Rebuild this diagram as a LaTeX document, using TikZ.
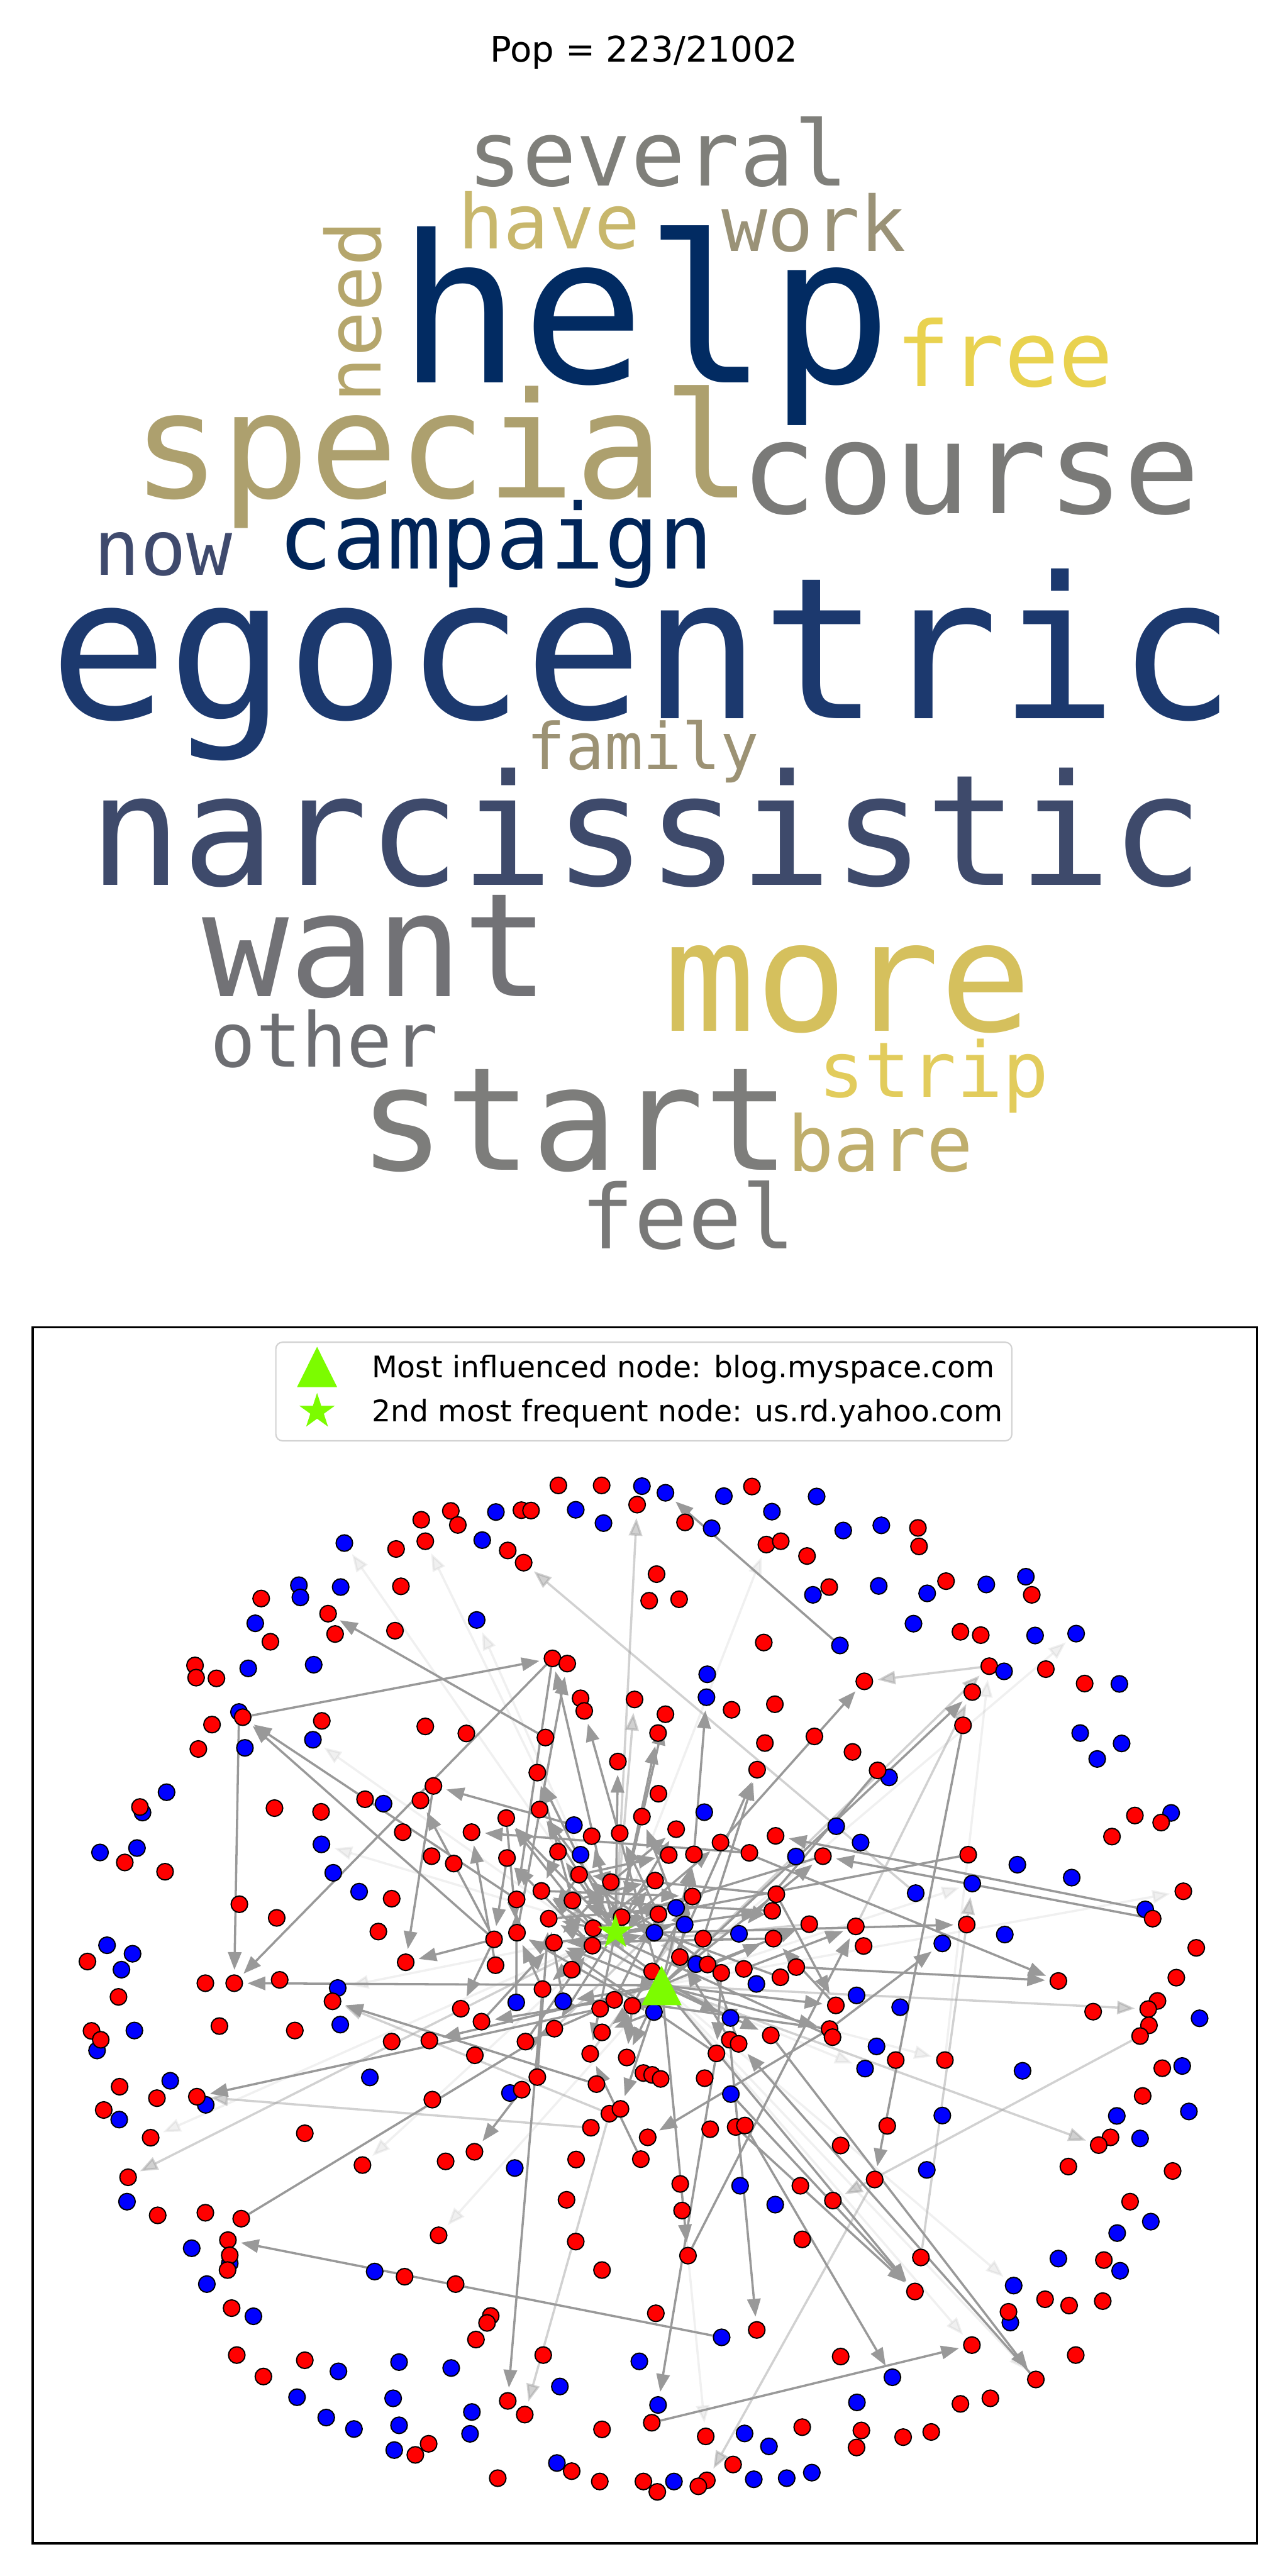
\documentclass[tikz,border=0pt]{standalone}
\usepackage{fontspec}
\setmainfont{DejaVu Sans}
\newfontfamily\cloudfont{DejaVu Sans Mono}
\usetikzlibrary{arrows.meta,shapes.geometric,backgrounds}
\definecolor{cSeveral}{RGB}{127,127,122}
\definecolor{cHave}{RGB}{200,183,108}
\definecolor{cWork}{RGB}{154,146,119}
\definecolor{cNeed}{RGB}{181,166,108}
\definecolor{cHelp}{RGB}{2,43,98}
\definecolor{cFree}{RGB}{233,210,79}
\definecolor{cSpecial}{RGB}{173,160,110}
\definecolor{cCourse}{RGB}{122,122,120}
\definecolor{cNow}{RGB}{63,74,109}
\definecolor{cCampaign}{RGB}{1,37,89}
\definecolor{cEgo}{RGB}{28,57,110}
\definecolor{cFamily}{RGB}{156,146,116}
\definecolor{cNarc}{RGB}{62,74,107}
\definecolor{cWant}{RGB}{114,114,118}
\definecolor{cMore}{RGB}{213,192,93}
\definecolor{cOther}{RGB}{109,110,114}
\definecolor{cStrip}{RGB}{226,204,92}
\definecolor{cStart}{RGB}{125,125,123}
\definecolor{cBare}{RGB}{191,174,108}
\definecolor{cFeel}{RGB}{121,121,120}
\definecolor{lgreen}{RGB}{124,252,0}
\definecolor{edgegray}{RGB}{153,153,153}
\definecolor{legendgray}{RGB}{210,210,210}
\tikzset{
  word/.style={anchor=base, inner sep=0pt, outer sep=0pt},
  dot/.style={circle, draw=black, line width=0.55pt, minimum size=0.262cm, inner sep=0pt},
  edge/.style={draw=edgegray, line width=1pt, -{Triangle[length=8pt,width=6pt]}, shorten >=2pt},
  edgelight/.style={edge, opacity=0.45},
  edgefaint/.style={edge, opacity=0.15},
  marker/.style={fill=lgreen, draw=none},
}
\begin{document}
\begin{tikzpicture}[x=0.026cm, y=-0.026cm]
\useasboundingbox (0,0) rectangle (784,1568);

\node[anchor=base, inner sep=0pt, font=\fontsize{15.9}{15.9}\selectfont] (title) at (392,37.8) {Pop = 223/21002};

\foreach \w/\x/\y/\s/\c in {several/400.7/113/40.7/cSeveral, have/334.3/151.5/34/cHave, work/495.4/152.8/34.4/cWork,
  help/392.7/232.9/92.5/cHelp, free/611.5/235.4/40.7/cFree, special/269.2/302.9/66.2/cSpecial,
  course/590.8/312.6/57.3/cCourse, now/99.4/350.1/34.4/cNow, campaign/301.8/346.2/40.7/cCampaign,
  egocentric/391.2/437.3/88.8/cEgo, family/391.5/468.4/29/cFamily, narcissistic/393.6/538.7/69.5/cNarc,
  want/228.8/606.7/65/cWant, more/516.1/627.6/68.8/cMore, other/197.4/649.3/34/cOther,
  strip/568.3/667.9/34.5/cStrip, start/349.9/712.3/64.6/cStart, bare/535.8/712.9/34.7/cBare,
  feel/418.8/760.1/40/cFeel}
  \node[word, text=\c, font=\cloudfont\fontsize{\s}{\s}\selectfont] (w-\w) at (\x,\y) {\w};
\node[word, rotate=90, text=cNeed, font=\cloudfont\fontsize{34}{34}\selectfont] (w-need) at (231.9,189.7) {need};

\draw[line width=1pt] (20,808) rectangle (765,1548);

\begin{scope}[shift={(43.55,892.9)}, scale=0.225]
\foreach \n/\x/\y/\c in {a1/1317/50/red, a2/1434/50/red, a3/1543/52/blue, a4/1530/102/red, a5/1364/116/blue, a6/1439/152/blue, a7/1217/117/red, a8/1243/118/red, a9/1148/122/blue, a10/1026/119/red, a11/1045/157/red, a12/946/143/red, a13/957/201/red, a14/1111/198/blue, a15/1180/226/red, a16/1223/259/red, a17/878/222/red, a18/738/206/blue, a19/891/323/red, a20/728/325/blue, a21/615/320/blue, a22/619/353/blue, a23/513/356/red, a24/1096/414/blue, a25/694/397/red, a26/713/452/red, a27/875/443/red, a28/497/423/blue, a29/538/473/red, a30/1301/518/red, a31/1341/532/red, a32/478/545/blue, a33/655/535/blue, a34/334/537/red, a35/337/570/red, a36/392/572/red, a37/1377/626/red, a38/1387/660/red, a39/1523/629/red, a40/453/663/blue, a41/463/677/red, a42/380/697/red, a43/677/687/red, a44/957/702/red, a45/1068/721/red, a46/1282/732/red, a47/653/738/blue, a48/343/763/red, a49/469/760/blue, a50/1478/797/red, a51/1260/827/red, a52/979/863/red, a53/794/899/red, a54/844/911/blue, a55/944/902/red, a56/257/880/blue, a57/192/935/blue, a58/185/920/red, a59/549/923/red, a60/675/933/red, a61/1266/927/red, a62/1176/950/red, a63/1543/946/red, a64/1359/969/blue, a65/896/988/red, a66/1082/988/red, a67/1407/999/red, a68/1483/991/red, a69/77/1043/blue, a70/177/1031/blue, a71/144/1070/red, a72/253/1095/red, a73/676/1021/blue, a74/1316/1041/red, a75/1377/1049/blue, a76/974/1053/red, a77/1034/1073/red, a78/1178/1058/red, a79/708/1098/blue, a80/1373/1103/red, a81/1459/1123/red, a82/778/1149/blue, a83/866/1168/red, a84/1271/1147/red, a85/1204/1170/red, a86/1355/1173/red, a87/454/1183/red, a88/555/1220/red, a89/1291/1222/red, a90/1488/1218/red, a91/830/1257/red, a92/1143/1278/red, a93/1205/1260/red, a94/1305/1287/red, a95/1411/1248/red, a96/1409/1295/red, a97/96/1294/blue, a98/165/1317/blue, a99/43/1338/red, a100/135/1360/blue, a101/904/1340/red, a102/1147/1348/red, a103/1353/1360/red}
  \node[dot, fill=\c] (\n) at (\x,\y) {};
\end{scope}

\begin{scope}[shift={(392,892.9)}, scale=0.225]
\foreach \n/\x/\y/\c in {b1/58/70/blue, b2/216/79/blue, b3/292/53/red, b4/467/80/blue, b5/346/121/blue, b6/111/150/red, b7/183/166/blue, b8/331/210/red, b9/370/201/red, b10/441/241/red, b11/539/172/blue, b12/642/158/blue, b13/741/165/red, b14/744/215/red, b15/34/290/red, b16/14/362/red, b17/95/358/red, b18/501/325/red, b19/457/346/blue, b20/635/322/blue, b21/766/342/blue, b22/817/309/red, b23/926/318/blue, b24/1033/297/blue, b25/1049/346/red, b26/729/424/blue, b27/856/446/red, b28/911/455/red, b29/1058/456/blue, b30/1169/451/blue, b31/324/475/red, b32/530/483/blue, b33/934/539/red, b34/974/553/blue, b35/1087/547/red, b36/1192/586/red, b37/1286/587/blue, b38/596/580/red, b39/171/561/blue, b40/169/623/blue, b41/237/657/red, b42/354/642/red, b43/58/669/red, b44/38/720/red, b45/888/609/red, b46/863/699/red, b47/1180/720/blue, b48/1292/748/blue, b49/1226/790/blue, b50/327/747/red, b51/461/729/red, b52/564/771/red, b53/306/819/red, b54/663/840/blue, b55/632/821/red, b56/39/884/red, b57/163/934/blue, b58/1328/943/red, b59/1426/936/blue, b60/1399/962/red, b61/1266/1000/red, b62/87/980/red, b63/520/972/blue, b64/586/1016/blue, b65/356/998/red, b66/207/1016/red, b67/67/1050/red, b68/135/1048/red, b69/285/1044/red, b70/411/1054/blue, b71/484/1053/red, b72/877/1049/red, b73/1010/1076/blue, b74/1157/1111/blue, b75/1459/1148/red, b76/30/1119/red, b77/131/1162/red, b78/358/1156/red, b79/87/1193/blue, b80/39/1210/red, b81/347/1201/red, b82/735/1153/blue, b83/888/1127/blue, b84/1356/1197/blue, b85/1376/1222/red, b86/110/1238/blue, b87/28/1260/blue, b88/257/1263/blue, b89/160/1276/red, b90/350/1276/red, b91/447/1237/red, b92/573/1243/red, b93/594/1296/red, b94/873/1238/red, b95/976/1265/blue, b96/807/1289/blue, b97/1494/1301/red, b98/97/1326/red, b99/141/1345/blue, b100/172/1346/red, b101/270/1358/red, b102/412/1353/red}
  \node[dot, fill=\c] (\n) at (\x,\y) {};
\end{scope}

\begin{scope}[shift={(43.55,1197.7)}, scale=0.225]
\foreach \n/\x/\y/\c in {c1/362/42/red, c2/440/42/red, c3/563/33/red, c4/720/55/blue, c5/706/91/red, c6/127/79/red, c7/1274/58/red, c8/1203/94/blue, c9/1330/91/blue, c10/1468/87/red, c11/1430/111/red, c12/1517/103/red, c13/1053/111/red, c14/1109/146/red, c15/1306/165/red, c16/1435/175/red, c17/69/224/blue, c18/54/171/red, c19/79/195/red, c20/170/170/blue, c21/400/158/red, c22/604/170/red, c23/727/154/blue, c24/866/200/red, c25/968/197/red, c26/1228/200/red, c27/1091/237/red, c28/1403/233/red, c29/1502/243/red, c30/1547/285/red, c31/267/306/blue, c32/130/322/red, c33/231/353/red, c34/807/297/blue, c35/1260/296/red, c36/1186/339/blue, c37/1218/330/red, c38/1420/315/red, c39/363/371/blue, c40/339/349/red, c41/976/357/red, c42/87/385/red, c43/129/411/blue, c44/214/460/red, c45/631/448/red, c46/1455/395/red, c47/1485/382/red, c48/1405/433/red, c49/1090/498/red, c50/1012/524/red, c51/787/534/red, c52/1199/542/blue, c53/1365/519/red, c54/1540/518/red, c55/153/567/red, c56/150/633/blue, c57/233/670/red, c58/362/663/red, c59/459/679/red, c60/1339/628/red, c61/993/724/red, c62/1364/741/red, c63/325/759/blue, c64/428/800/blue, c65/423/737/red, c66/428/778/red, c67/422/818/red, c68/366/856/blue, c69/820/822/blue, c70/901/836/red, c71/1039/856/red, c72/1435/818/red, c73/433/921/red, c74/492/943/blue, c75/1134/942/red, c76/1124/961/red, c77/1094/1006/red, c78/447/1048/red, c79/631/1062/red, c80/519/1106/red, c81/722/1092/blue, c82/886/1067/blue, c83/1027/1083/blue, c84/1276/1048/red, c85/1536/1065/blue, c86/1321/1133/blue, c87/610/1162/blue, c88/870/1165/blue, c89/689/1217/blue, c90/764/1248/blue, c91/886/1238/blue, c92/1083/1202/blue, c93/1078/1261/blue, c94/1180/1172/red, c95/1226/1209/red, c96/1435/1249/red, c97/873/1305/blue, c98/930/1318/red, c99/966/1288/red, c100/1313/1340/blue, c101/1353/1362/red, c102/1153/1381/red, c103/1429/1390/red, c104/1547/1390/red}
  \node[dot, fill=\c] (\n) at (\x,\y) {};
\end{scope}

\begin{scope}[shift={(392,1197.7)}, scale=0.225]
\foreach \n/\x/\y/\c in {d1/22/10/red, d2/209/14/red, d3/369/26/red, d4/304/44/blue, d5/27/120/blue, d6/234/136/blue, d7/343/183/red, d8/232/195/red, d9/256/206/red, d10/196/232/red, d11/519/102/red, d12/575/75/blue, d13/693/107/blue, d14/502/166/red, d15/510/188/red, d16/629/213/blue, d17/598/273/blue, d18/681/250/red, d19/814/250/red, d20/1121/36/red, d21/1215/119/red, d22/1440/27/red, d23/1389/90/red, d24/1364/112/red, d25/1366/156/red, d26/1342/185/red, d27/1503/137/blue, d28/1024/279/blue, d29/1402/272/red, d30/1456/266/blue, d31/1349/347/red, d32/1279/401/blue, d33/1474/389/blue, d34/1262/459/red, d35/1230/480/red, d36/1342/462/blue, d37/1148/538/red, d38/1430/550/red, d39/1315/633/red, d40/1371/687/blue, d41/1280/718/blue, d42/1121/787/blue, d43/1244/791/red, d44/1288/820/blue, d45/1000/860/blue, d46/1085/897/red, d47/1150/914/red, d48/1241/902/red, d49/991/960/blue, d50/986/931/red, d51/1168/1048/red, d52/1060/1114/red, d53/887/1021/red, d54/937/1165/red, d55/856/1180/red, d56/777/1256/red, d57/701/1270/red, d58/588/1252/red, d59/575/1298/red, d60/576/1176/blue, d61/672/1108/blue, d62/532/1052/red, d63/428/1243/red, d64/338/1295/blue, d65/272/1260/blue, d66/167/1268/red, d67/241/1344/red, d68/297/1384/blue, d69/386/1381/blue, d70/454/1366/blue, d71/170/1387/red, d72/147/1403/red, d73/81/1390/blue, d74/36/1418/red, d75/21/1231/red, d76/38/1183/blue, d77/32/935/red, d78/210/1000/blue, d79/305/980/red, d80/119/779/red, d81/103/657/red, d82/98/585/red, d83/260/590/blue, d84/355/641/blue, d85/428/735/red, d86/423/590/red, d87/511/630/red, d88/624/573/red, d89/532/481/red, d90/658/428/red, d91/765/547/blue, d92/807/400/blue, d93/749/784/red, d94/733/876/red, d95/179/437/red, d96/248/431/red, d97/273/427/red, d98/235/342/blue, d99/164/299/red, d100/10/459/red, d101/22/290/red, d102/45/301/red}
  \node[dot, fill=\c] (\n) at (\x,\y) {};
\end{scope}

\node[star, star points=5, star point ratio=2.618, marker, inner sep=0pt, minimum size=0.582cm] (hubS) at (374.6,1176.1) {};
\coordinate (hubT) at (402.7,1208.5);
\fill[lgreen] (hubT) ++(0,-12) -- ++(12.2,24) -- ++(-24.4,0) -- cycle;

\begin{scope}[on background layer]
\foreach \s/\t in {a41/a30, a46/a25, a30/c2, a92/a41, a85/a41, a40/c2, a52/a101, a64/a52, b69/a66, a92/a55, a102/a66, a92/a101, hubT/c2, c38/c5, c11/c40, c37/c49, c59/c15, d78/c65, c7/c94, b32/b1, b68/b40, b78/d11, b55/b88, hubT/b45, b66/d20, b102/d20, b72/b80, b87/b94, d14/b96, b46/d88, b66/b38, d7/d52, d52/d9, hubT/d94, d98/d94, d96/d94, d97/d61, d75/d53, d10/d76, d8/d79, hubT/d80, d14/d100, d80/b92, a30/a85, hubS/a30, a93/a31, hubT/a38, hubS/a50, a92/c13,
  a95/a62, a96/a78, a90/a61, a86/a51, b85/b71, b84/b65, b100/b91, b101/b92, d1/c12, d2/d10, d5/c16, d6/d8, c10/c14, c11/c26, c12/c29, a96/c7, b89/b53, b86/b77, b98/b68, b80/a68, b79/a63, b87/a90,
  hubS/a61, hubS/a62, hubS/a51, hubS/a67, hubS/a74, hubS/a80, hubS/a84, hubS/a89, hubS/b43, hubS/b44, hubS/b62, hubS/b66, hubS/b76, hubS/b81, hubS/c15, hubS/c28, hubT/b68, hubT/b90, hubT/b71, hubT/d14, hubT/d11, hubT/d6, hubT/d7, hubT/c9, hubT/c29, hubT/c47, hubT/a94, hubT/b53, hubT/c25, hubT/c16, c54/c28,
  a74/a84, a80/a89, a81/a94, a62/a93, a78/a92, a84/b77, a89/b79, a94/b86, a95/b80, a96/b87, a86/b76, a80/b67, a81/b62, b76/a95, b77/a96, b81/a86, b90/a94, b71/a90, b78/a80, c7/a93, c8/a85, c9/a89, c10/b80, c12/b77, c14/a94, d1/a84, d2/a80, d3/a86, d5/a93, d6/a89, d10/a94, d8/b98, d9/b89, d11/b90, d14/c10, d15/a95, c26/a96, c35/a89}
  \draw[edge] (\s) -- (\t);
\foreach \s/\t in {c46/c5, c48/c40, hubS/c55, c46/c95, b92/b45, hubT/b33, b33/b38, b82/a16, hubS/a4, hubT/d24, hubT/d35, d26/d87, d88/d71, d93/b83, hubS/a39, b79/a89, b91/a96, c15/b79, c28/b86}
  \draw[edgelight] (\s) -- (\t);
\foreach \s/\t in {hubS/a13, hubT/a47, hubS/a73, hubS/b8, d19/b33, hubT/b83, hubS/c51, hubT/c61, hubS/c4, hubT/d17, hubT/d19, hubT/d52, hubT/d53, hubS/a18, hubT/b30, hubS/c44, hubT/d66, hubS/a24, hubT/b75, hubT/d45}
  \draw[edgefaint] (\s) -- (\t);
\end{scope}

\draw[legendgray, fill=white, fill opacity=0.8, line width=0.6pt, rounded corners=3pt] (167.9,817) rectangle (615.9,877);
\fill[lgreen] (193,819.8) -- (205.2,844.3) -- (180.8,844.3) -- cycle;
\node[star, star points=5, star point ratio=2.618, marker, inner sep=0pt, minimum size=0.59cm] (legS) at (193,859.2) {};
\node[anchor=base west, inner sep=0pt, font=\fontsize{13.4}{13.4}\selectfont] (legA) at (226,838.4) {Most influenced node: blog.myspace.com};
\node[anchor=base west, inner sep=0pt, font=\fontsize{13.4}{13.4}\selectfont] (legB) at (226,865.3) {2nd most frequent node: us.rd.yahoo.com};
\end{tikzpicture}
\end{document}
